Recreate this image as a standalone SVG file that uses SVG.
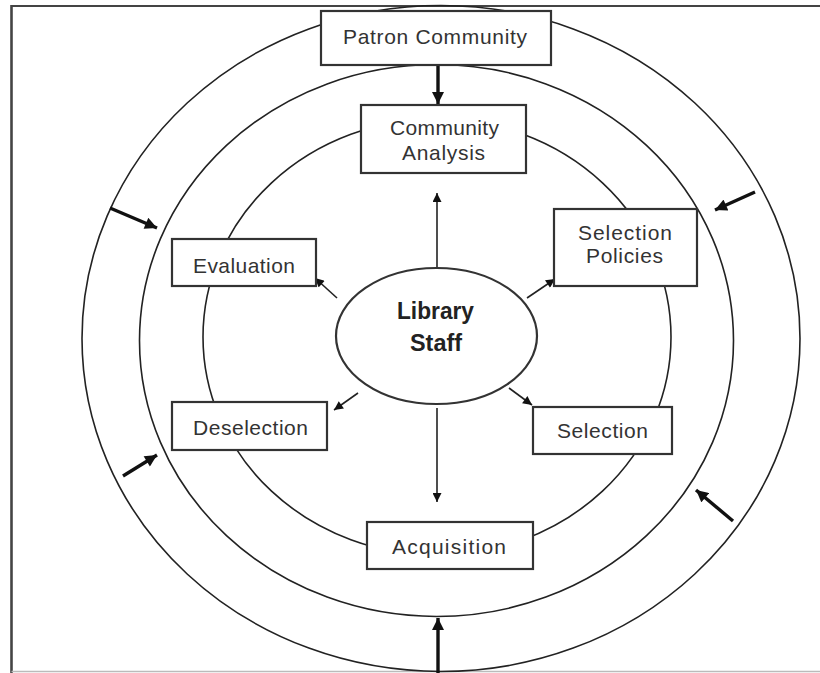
<svg xmlns="http://www.w3.org/2000/svg" width="820" height="673" viewBox="0 0 820 673">
  <defs>
    <style>
      .ring { fill: none; stroke: #222; stroke-width: 1.6; }
      .box { fill: #fff; stroke: #333; stroke-width: 2.2; }
      .lbl { font-family: "Liberation Sans", Arial, sans-serif; font-size: 21px; fill: #333; }
      .hub { font-family: "Liberation Sans", Arial, sans-serif; font-size: 23px; font-weight: bold; fill: #222; }
      .thin { stroke: #222; stroke-width: 1.6; fill: none; marker-end: url(#head); }
      .bold { stroke: #111; stroke-width: 3.4; fill: none; marker-end: url(#headBold); }
    </style>
    <marker id="head" viewBox="0 0 10 10" refX="10" refY="5" markerUnits="userSpaceOnUse" markerWidth="10" markerHeight="9" orient="auto">
      <path d="M0,0 L10,5 L0,10 z" fill="#111"/>
    </marker>
    <marker id="headBold" viewBox="0 0 10 10" refX="10" refY="5" markerUnits="userSpaceOnUse" markerWidth="13" markerHeight="12" orient="auto">
      <path d="M0,0 L10,5 L0,10 z" fill="#111"/>
    </marker>
  </defs>

  <rect width="820" height="673" fill="#fff"/>

  <!-- page frame -->
  <g id="frame">
    <line x1="11.5" y1="6" x2="820" y2="6" stroke="#444" stroke-width="2.2"/>
    <line x1="11.5" y1="5" x2="11.5" y2="673" stroke="#444" stroke-width="2.6"/>
    <line x1="11.5" y1="671.5" x2="820" y2="671.5" stroke="#bbb" stroke-width="1.6"/>
  </g>

  <!-- concentric rings -->
  <g id="rings">
    <ellipse class="ring" cx="441" cy="338.5" rx="359" ry="333"/>
    <ellipse class="ring" cx="436.5" cy="340.5" rx="297" ry="276"/>
    <ellipse class="ring" cx="437" cy="337" rx="234" ry="218"/>
  </g>

  <!-- connectors -->
  <g id="connectors">
    <line class="thin" x1="437" y1="268" x2="437" y2="193"/>
    <line class="thin" x1="437" y1="408" x2="437" y2="502"/>
    <line class="thin" x1="337" y1="298" x2="315" y2="278"/>
    <line class="thin" x1="527" y1="298" x2="555" y2="279"/>
    <line class="thin" x1="358" y1="393" x2="334" y2="410"/>
    <line class="thin" x1="509" y1="388" x2="532" y2="405"/>
    <line class="bold" x1="438" y1="65" x2="438" y2="104"/>
    <line class="bold" x1="438" y1="673" x2="438" y2="618"/>
    <line class="bold" x1="110" y1="208" x2="157" y2="228"/>
    <line class="bold" x1="755" y1="192" x2="715" y2="210"/>
    <line class="bold" x1="123" y1="476" x2="157" y2="455"/>
    <line class="bold" x1="733" y1="521" x2="696" y2="490"/>
  </g>

  <g id="patron-community">
    <rect class="box" x="321" y="11" width="230" height="54"/>
    <text class="lbl" x="343" y="44" textLength="184" lengthAdjust="spacing">Patron Community</text>
  </g>

  <g id="community-analysis">
    <rect class="box" x="361" y="105" width="165" height="68"/>
    <text class="lbl" x="390" y="135" textLength="109" lengthAdjust="spacing">Community</text>
    <text class="lbl" x="402" y="160" textLength="83" lengthAdjust="spacing">Analysis</text>
  </g>

  <g id="selection-policies">
    <rect class="box" x="554" y="209" width="143" height="77"/>
    <text class="lbl" x="578" y="240" textLength="94" lengthAdjust="spacing">Selection</text>
    <text class="lbl" x="586" y="263" textLength="77" lengthAdjust="spacing">Policies</text>
  </g>

  <g id="evaluation">
    <rect class="box" x="172" y="239" width="144" height="47"/>
    <text class="lbl" x="193" y="273" textLength="102" lengthAdjust="spacing">Evaluation</text>
  </g>

  <g id="library-staff">
    <ellipse class="box" cx="436.5" cy="336" rx="100.5" ry="68" stroke-width="1.8"/>
    <text class="hub" x="397" y="319" textLength="77" lengthAdjust="spacingAndGlyphs">Library</text>
    <text class="hub" x="410" y="351" textLength="52" lengthAdjust="spacingAndGlyphs">Staff</text>
  </g>

  <g id="deselection">
    <rect class="box" x="172" y="402" width="155" height="48"/>
    <text class="lbl" x="193" y="435" textLength="115" lengthAdjust="spacing">Deselection</text>
  </g>

  <g id="selection">
    <rect class="box" x="533" y="407" width="139" height="47"/>
    <text class="lbl" x="557" y="438" textLength="91" lengthAdjust="spacing">Selection</text>
  </g>

  <g id="acquisition">
    <rect class="box" x="367" y="522" width="166" height="47"/>
    <text class="lbl" x="392" y="554" textLength="114" lengthAdjust="spacing">Acquisition</text>
  </g>
</svg>
